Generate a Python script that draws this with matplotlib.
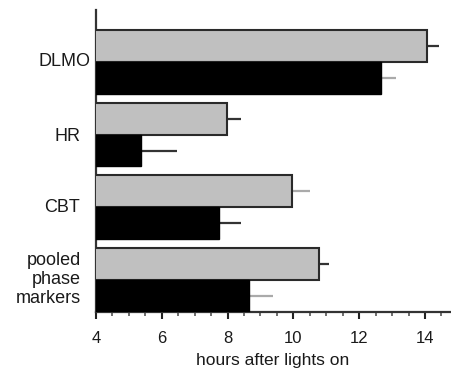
import matplotlib
matplotlib.use("Agg")
import matplotlib.pyplot as plt
import matplotlib.transforms as mtransforms
import numpy as np

plt.rcParams['font.family'] = ['Liberation Sans', 'DejaVu Sans']

categories = ["DLMO", "HR", "CBT", "pooled\nphase\nmarkers"]
gray_values = [14.05, 7.97, 9.97, 10.78]
gray_errors = [0.38, 0.44, 0.53, 0.31]
black_values = [12.66, 5.37, 7.74, 8.65]
black_errors = [0.46, 1.10, 0.67, 0.72]
gray_err_colors = ["#333333", "#333333", "#aaaaaa", "#333333"]
black_err_colors = ["#aaaaaa", "#333333", "#333333", "#aaaaaa"]
x_ticks = [4, 6, 8, 10, 12, 14]

fig = plt.figure(figsize=(4.51, 3.74), dpi=100)
ax = fig.add_axes([96/451, 1 - 311.7/374, 354/451, 301.7/374])

pos = np.arange(len(categories))
h = 0.44
edge = "#2a2a2a"
ax.barh(pos - h/2, gray_values, height=h, color="#c0c0c0", edgecolor=edge,
        linewidth=1.5, zorder=3)
ax.barh(pos + h/2, black_values, height=h, color="black", edgecolor="black",
        linewidth=1.0, zorder=3)
for i in range(len(categories)):
    ax.errorbar(gray_values[i], pos[i] - h/2, xerr=gray_errors[i], fmt='none',
                ecolor=gray_err_colors[i], elinewidth=1.6, capsize=0, zorder=1)
    ax.errorbar(black_values[i], pos[i] + h/2, xerr=black_errors[i], fmt='none',
                ecolor=black_err_colors[i], elinewidth=1.6, capsize=0, zorder=1)

ax.set_xlim(4, 14.76)
ax.set_ylim(len(categories) - 1 + h, -h - 20/72.6)

ax.spines['top'].set_visible(False)
ax.spines['right'].set_visible(False)
for s in ('left', 'bottom'):
    ax.spines[s].set_color("#333333")
    ax.spines[s].set_linewidth(1.6)

ax.set_xticks(x_ticks)
ax.set_xticks(np.arange(4.5, 14.76, 0.5), minor=True)
ax.tick_params(axis='x', which='major', length=5, width=1.5, color="#222222",
               labelsize=12, pad=9, labelcolor="#1a1a1a")
ax.tick_params(axis='x', which='minor', length=3, width=1.2, color="#555555")
ax.set_yticks([])
ax.set_xlabel("hours after lights on", fontsize=12.5, labelpad=5, color="#1a1a1a")

label_offsets = [-5, -16, -16, -15]
label_dy = [0, -2, 0, 0]
for i, lab in enumerate(categories):
    tr = ax.get_yaxis_transform() + mtransforms.ScaledTranslation(
        label_offsets[i] / 100, label_dy[i] / 100, fig.dpi_scale_trans)
    ax.text(0, pos[i], lab, transform=tr, ha='right', va='center',
            fontsize=13, multialignment='right', linespacing=1.17,
            color="#1a1a1a")

fig.savefig("out.png", dpi=100)
